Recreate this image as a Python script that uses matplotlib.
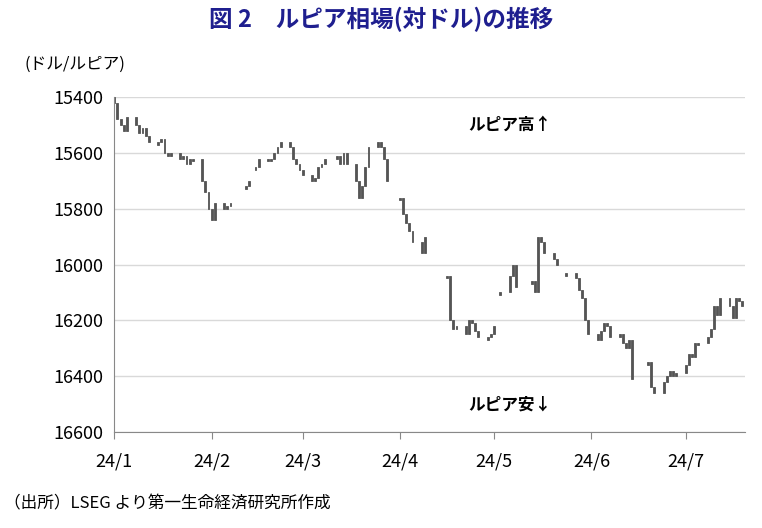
import numpy as np
import pandas as pd
import matplotlib
matplotlib.use("Agg")
import matplotlib.pyplot as plt
import matplotlib.dates as mdates

plt.rcParams['font.family'] = ['Noto Sans CJK JP', 'DejaVu Sans']

nan = np.nan
first_open = 15400
closes = [
    15420, 15480, 15500, 15520, 15470,   # Jan 1
    15500, 15530, 15510, 15540, 15560,   # Jan 8
    15560, 15550, 15600, 15610, 15600,   # Jan 15
    15620, 15610, 15640, 15620, 15620,   # Jan 22
    15700, 15740, 15800, 15840, 15780,   # Jan 29
    15800, 15790, 15780, nan, nan,       # Feb 5
    15720, 15700, nan, 15650, 15620,     # Feb 12
    15620, 15620, 15600, 15580, 15560,   # Feb 19
    15580, 15620, 15640, 15660, 15680,   # Feb 26
    15700, 15690, 15650, 15640, 15620,   # Mar 4
    nan, 15610, 15640, 15600, 15640,     # Mar 11
    15700, 15760, 15720, 15650, 15580,   # Mar 18
    15560, 15580, 15620, 15700, nan,     # Mar 25
    15760, 15820, 15850, 15880, 15920,   # Apr 1
    15960, 15900, nan, nan, nan,         # Apr 8
    nan, 16040, 16200, 16230, 16220,     # Apr 15
    16250, 16200, 16210, 16240, 16260,   # Apr 22
    16260, 16250, 16220, nan, 16100,     # Apr 29
    16040, 16000, 16080, nan, nan,       # May 6
    16060, 16100, 15900, 15920, 15960,   # May 13
    15980, 16000, nan, nan, 16030,       # May 20
    16050, 16090, 16120, 16200, 16250,   # May 27
    16270, 16240, 16210, 16220, 16260,   # Jun 3
    16250, 16280, 16300, 16270, 16410,   # Jun 10
    nan, nan, 16350, 16440, 16460,       # Jun 17
    16420, 16400, 16380, 16400, 16390,   # Jun 24
    16360, 16320, 16330, 16280, 16280,   # Jul 1
    16260, 16230, 16150, 16180, 16120,   # Jul 8
    16150, 16190, 16120, 16130, 16150,   # Jul 15
]
dates = pd.bdate_range("2024-01-01", periods=len(closes))

xtick_dates = pd.to_datetime(["2024-01-01", "2024-02-01", "2024-03-01", "2024-04-01",
                              "2024-05-01", "2024-06-01", "2024-07-01"])
xtick_labels = ["24/1", "24/2", "24/3", "24/4", "24/5", "24/6", "24/7"]
yticks = [15400, 15600, 15800, 16000, 16200, 16400, 16600]

opens, cls, ds = [], [], []
prev = first_open
for d, c in zip(dates, closes):
    if np.isnan(c):
        prev = nan
        continue
    o = c if np.isnan(prev) else prev
    opens.append(o); cls.append(c); ds.append(d)
    prev = c
opens = np.array(opens); cls = np.array(cls)
lo = np.minimum(opens, cls)
h = np.maximum(np.abs(cls - opens), 10)

fig = plt.figure(figsize=(7.62, 5.28), dpi=100)
ax = fig.add_axes([0.150, 0.182, 0.828, 0.634])
ax.bar(ds, h, bottom=lo, width=0.6, color="#555555", edgecolor="#555555", linewidth=0.6)

ax.set_ylim(16600, 15400)
ax.set_yticks(yticks)
ax.set_yticklabels([str(v) for v in yticks], fontsize=13)
ax.set_xlim(pd.Timestamp("2024-01-01"), pd.Timestamp("2024-07-20"))
ax.set_xticks(xtick_dates)
ax.set_xticklabels(xtick_labels, fontsize=13)
ax.tick_params(axis='x', length=5, color="#888888", pad=10)
ax.tick_params(axis='y', length=0, pad=8)
ax.grid(axis='y', color="#d9d9d9", linewidth=1)
ax.set_axisbelow(True)
for s in ["top", "right"]:
    ax.spines[s].set_visible(False)
ax.spines["left"].set_color("#888888")
ax.spines["bottom"].set_color("#888888")

fig.text(0.5, 0.963, "図 2　ルピア相場(対ドル)の推移", ha="center", va="center",
         fontsize=17, fontweight="bold", color="#1f1f8f")
fig.text(0.032, 0.878, "(ドル/ルピア)", fontsize=12, va="center")
fig.text(0.615, 0.763, "ルピア高↑", fontsize=12, fontweight="bold", va="center")
fig.text(0.615, 0.233, "ルピア安↓", fontsize=12, fontweight="bold", va="center")
fig.text(0.005, 0.045, "（出所）LSEG より第一生命経済研究所作成", fontsize=12, va="center")

fig.savefig("out.png", dpi=100)
